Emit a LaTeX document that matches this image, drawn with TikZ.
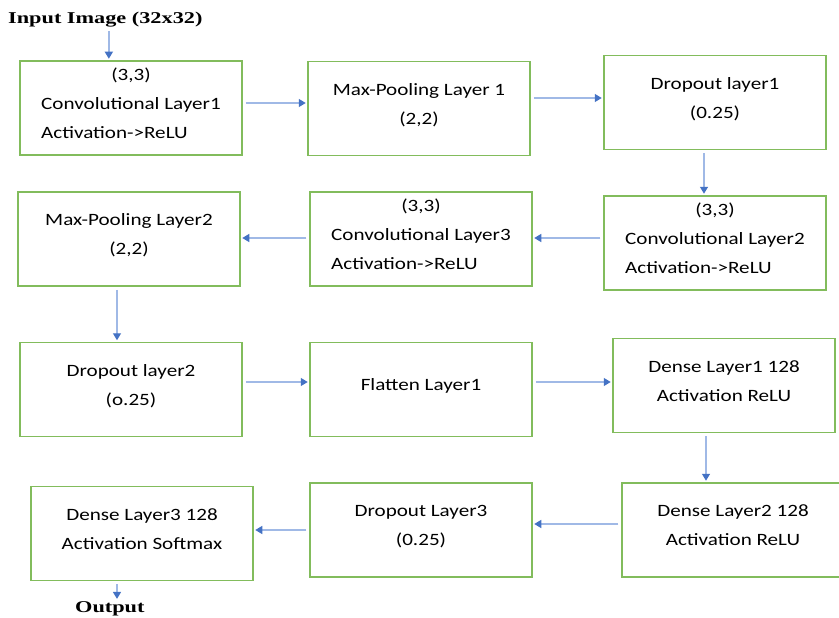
\documentclass[tikz,border=0pt]{standalone}
\usepackage{fontspec}
\usetikzlibrary{arrows.meta}
\newfontfamily\layerface[FakeStretch=1.22]{Carlito}
\newfontfamily\ioface[FakeStretch=1.35]{Liberation Serif}
\definecolor{layergreen}{RGB}{130,188,92}
\definecolor{linkblue}{RGB}{160,185,230}
\definecolor{tipblue}{RGB}{68,114,196}
% text of a layer box, lifted a little above the box centre
\newcommand{\layertext}[2]{\raisebox{4.5pt}[\height][\depth]{\begin{tabular}{@{}#1@{}}#2\end{tabular}}}

\begin{document}
\begin{tikzpicture}[x=1pt,y=-1pt,
  layer/.style={draw=layergreen, line width=1.5pt, minimum width=222pt, minimum height=94pt,
                inner sep=0pt, font=\layerface\fontsize{17.3}{28.8}\selectfont},
  io/.style={font=\ioface\bfseries\fontsize{16.5}{20}\selectfont, inner sep=1pt},
  flow/.style={draw=linkblue, line width=1.4pt, -{Triangle[length=7pt,width=8pt,color=tipblue]},
               shorten <=3pt, shorten >=1.5pt}]
\useasboundingbox (0,0) rectangle (839,618);
\clip (0,0) rectangle (839,618);
\fill[white] (0,0) rectangle (839,618);

% input and output
\node[io, anchor=base west] (input) at (7,23.3) {Input Image (32x32)};
\node[io, anchor=base west] (output) at (74,612.5) {Output};

% row 1
\node[layer] (conv1) at (131,108)
  {\layertext{l}{\multicolumn{1}{@{}c@{}}{(3,3)}\\Convolutional Layer1\\Activation->ReLU}};
\node[layer] (pool1) at (419,108.5) {\layertext{c}{Max-Pooling Layer 1\\(2,2)}};
\node[layer] (drop1) at (715,102.5) {\layertext{c}{Dropout layer1\\(0.25)}};
% row 2
\node[layer] (pool2) at (129,239) {\layertext{c}{Max-Pooling Layer2\\(2,2)}};
\node[layer] (conv3) at (421,239)
  {\layertext{l}{\multicolumn{1}{@{}c@{}}{(3,3)}\\Convolutional Layer3\\Activation->ReLU}};
\node[layer] (conv2) at (715,243)
  {\layertext{l}{\multicolumn{1}{@{}c@{}}{(3,3)}\\Convolutional Layer2\\Activation->ReLU}};
% row 3
\node[layer] (drop2) at (131,389.5) {\layertext{c}{Dropout layer2\\(o.25)}};
\node[layer] (flat) at (421,389.5) {\layertext{c}{Flatten Layer1}};
\node[layer] (dense1) at (724,385.5) {\layertext{c}{Dense Layer1 128\\Activation ReLU}};
% row 4
\node[layer] (dense3) at (142,533.5) {\layertext{c}{Dense Layer3 128\\Activation Softmax}};
\node[layer] (drop3) at (421,530) {\layertext{c}{Dropout Layer3\\(0.25)}};
\node[layer] (dense2) at (733,530) {\layertext{c}{Dense Layer2 128\\Activation ReLU}};

% connectors
\draw[flow] ([xshift=3.5pt]input.south) -- ([xshift=3.5pt]input.south |- conv1.north);
\draw[flow] ([yshift=5pt]conv1.east) -- ([yshift=5pt]conv1.east -| pool1.west);
\draw[flow] ([yshift=10.5pt]pool1.east) -- ([yshift=10.5pt]pool1.east -| drop1.west);
\draw[flow] ([xshift=-11pt]drop1.south) -- ([xshift=-11pt]drop1.south |- conv2.north);
\draw[flow] ([yshift=5pt]conv2.west) -- ([yshift=5pt]conv2.west -| conv3.east);
\draw[flow] ([yshift=1pt]conv3.west) -- ([yshift=1pt]conv3.west -| pool2.east);
\draw[flow] ([xshift=-12pt]pool2.south) -- ([xshift=-12pt]pool2.south |- drop2.north);
\draw[flow] ([yshift=7.5pt]drop2.east) -- ([yshift=7.5pt]drop2.east -| flat.west);
\draw[flow] ([yshift=7.5pt]flat.east) -- ([yshift=7.5pt]flat.east -| dense1.west);
\draw[flow] ([xshift=-18pt]dense1.south) -- ([xshift=-18pt]dense1.south |- dense2.north);
\draw[flow] ([yshift=6pt]dense2.west) -- ([yshift=6pt]dense2.west -| drop3.east);
\draw[flow] (drop3.west) -- (drop3.west -| dense3.east);
\draw[flow] ([xshift=-25pt]dense3.south) -- ([xshift=-25pt]dense3.south |- output.north);
\end{tikzpicture}
\end{document}
